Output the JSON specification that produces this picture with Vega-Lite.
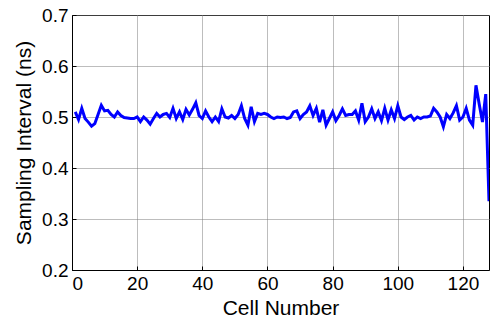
{
  "$schema": "https://vega.github.io/schema/vega-lite/v6.json",
  "width": 417,
  "height": 255,
  "autosize": {"type": "none"},
  "padding": {"left": 72, "top": 15, "right": 1, "bottom": 52},
  "background": "white",
  "config": {
    "view": {"stroke": "black", "strokeWidth": 1},
    "font": "Liberation Sans",
    "axis": {
      "labelFont": "Liberation Sans",
      "titleFont": "Liberation Sans",
      "labelFontSize": 19,
      "titleFontSize": 21,
      "titleFontWeight": "normal",
      "labelColor": "#000",
      "titleColor": "#000",
      "domainColor": "#000",
      "tickColor": "#000",
      "gridColor": "#7a7a7a",
      "gridDash": [1, 1],
      "gridWidth": 1,
      "tickSize": -4
    }
  },
  "data": {
    "values": [
      {"cell": 1, "v": 0.510}, {"cell": 2, "v": 0.495}, {"cell": 3, "v": 0.517}, {"cell": 4, "v": 0.497},
      {"cell": 5, "v": 0.490}, {"cell": 6, "v": 0.482}, {"cell": 7, "v": 0.487}, {"cell": 8, "v": 0.505},
      {"cell": 9, "v": 0.523}, {"cell": 10, "v": 0.512}, {"cell": 11, "v": 0.513}, {"cell": 12, "v": 0.505},
      {"cell": 13, "v": 0.500}, {"cell": 14, "v": 0.510}, {"cell": 15, "v": 0.503}, {"cell": 16, "v": 0.499},
      {"cell": 17, "v": 0.498}, {"cell": 18, "v": 0.497}, {"cell": 19, "v": 0.497}, {"cell": 20, "v": 0.500},
      {"cell": 21, "v": 0.491}, {"cell": 22, "v": 0.500}, {"cell": 23, "v": 0.494}, {"cell": 24, "v": 0.486},
      {"cell": 25, "v": 0.497}, {"cell": 26, "v": 0.507}, {"cell": 27, "v": 0.500}, {"cell": 28, "v": 0.505},
      {"cell": 29, "v": 0.507}, {"cell": 30, "v": 0.499}, {"cell": 31, "v": 0.517}, {"cell": 32, "v": 0.497},
      {"cell": 33, "v": 0.510}, {"cell": 34, "v": 0.495}, {"cell": 35, "v": 0.515}, {"cell": 36, "v": 0.504},
      {"cell": 37, "v": 0.515}, {"cell": 38, "v": 0.528}, {"cell": 39, "v": 0.503}, {"cell": 40, "v": 0.497},
      {"cell": 41, "v": 0.512}, {"cell": 42, "v": 0.500}, {"cell": 43, "v": 0.491}, {"cell": 44, "v": 0.500},
      {"cell": 45, "v": 0.491}, {"cell": 46, "v": 0.516}, {"cell": 47, "v": 0.500}, {"cell": 48, "v": 0.498},
      {"cell": 49, "v": 0.503}, {"cell": 50, "v": 0.497}, {"cell": 51, "v": 0.505}, {"cell": 52, "v": 0.522},
      {"cell": 53, "v": 0.497}, {"cell": 54, "v": 0.484}, {"cell": 55, "v": 0.520}, {"cell": 56, "v": 0.491},
      {"cell": 57, "v": 0.507}, {"cell": 58, "v": 0.505}, {"cell": 59, "v": 0.507}, {"cell": 60, "v": 0.505},
      {"cell": 61, "v": 0.500}, {"cell": 62, "v": 0.497}, {"cell": 63, "v": 0.500}, {"cell": 64, "v": 0.499},
      {"cell": 65, "v": 0.500}, {"cell": 66, "v": 0.497}, {"cell": 67, "v": 0.499}, {"cell": 68, "v": 0.510},
      {"cell": 69, "v": 0.512}, {"cell": 70, "v": 0.497}, {"cell": 71, "v": 0.505}, {"cell": 72, "v": 0.510},
      {"cell": 73, "v": 0.522}, {"cell": 74, "v": 0.503}, {"cell": 75, "v": 0.517}, {"cell": 76, "v": 0.490},
      {"cell": 77, "v": 0.514}, {"cell": 78, "v": 0.484}, {"cell": 79, "v": 0.497}, {"cell": 80, "v": 0.510},
      {"cell": 81, "v": 0.493}, {"cell": 82, "v": 0.503}, {"cell": 83, "v": 0.516}, {"cell": 84, "v": 0.503},
      {"cell": 85, "v": 0.505}, {"cell": 86, "v": 0.505}, {"cell": 87, "v": 0.512}, {"cell": 88, "v": 0.494},
      {"cell": 89, "v": 0.527}, {"cell": 90, "v": 0.491}, {"cell": 91, "v": 0.500}, {"cell": 92, "v": 0.516},
      {"cell": 93, "v": 0.497}, {"cell": 94, "v": 0.510}, {"cell": 95, "v": 0.493}, {"cell": 96, "v": 0.517},
      {"cell": 97, "v": 0.494}, {"cell": 98, "v": 0.514}, {"cell": 99, "v": 0.497}, {"cell": 100, "v": 0.522},
      {"cell": 101, "v": 0.500}, {"cell": 102, "v": 0.495}, {"cell": 103, "v": 0.500}, {"cell": 104, "v": 0.503},
      {"cell": 105, "v": 0.494}, {"cell": 106, "v": 0.500}, {"cell": 107, "v": 0.497}, {"cell": 108, "v": 0.500},
      {"cell": 109, "v": 0.500}, {"cell": 110, "v": 0.502}, {"cell": 111, "v": 0.517}, {"cell": 112, "v": 0.510},
      {"cell": 113, "v": 0.500}, {"cell": 114, "v": 0.481}, {"cell": 115, "v": 0.505}, {"cell": 116, "v": 0.497},
      {"cell": 117, "v": 0.508}, {"cell": 118, "v": 0.522}, {"cell": 119, "v": 0.494}, {"cell": 120, "v": 0.500},
      {"cell": 121, "v": 0.517}, {"cell": 122, "v": 0.494}, {"cell": 123, "v": 0.484}, {"cell": 124, "v": 0.562},
      {"cell": 125, "v": 0.525}, {"cell": 126, "v": 0.490}, {"cell": 127, "v": 0.545}, {"cell": 128, "v": 0.335}
    ]
  },
  "mark": {"type": "line", "color": "#0000FF", "strokeWidth": 3, "clip": true},
  "encoding": {
    "x": {
      "field": "cell", "type": "quantitative",
      "scale": {"domain": [0, 128], "nice": false, "zero": false},
      "axis": {"title": "Cell Number", "values": [0, 20, 40, 60, 80, 100, 120], "format": "d", "labelPadding": 8, "titlePadding": 4, "grid": true}
    },
    "y": {
      "field": "v", "type": "quantitative",
      "scale": {"domain": [0.2, 0.7], "nice": false, "zero": false},
      "axis": {"title": "Sampling Interval (ns)", "values": [0.2, 0.3, 0.4, 0.5, 0.6, 0.7], "format": ".1f", "labelPadding": 8, "titlePadding": 7, "grid": true}
    }
  }
}
